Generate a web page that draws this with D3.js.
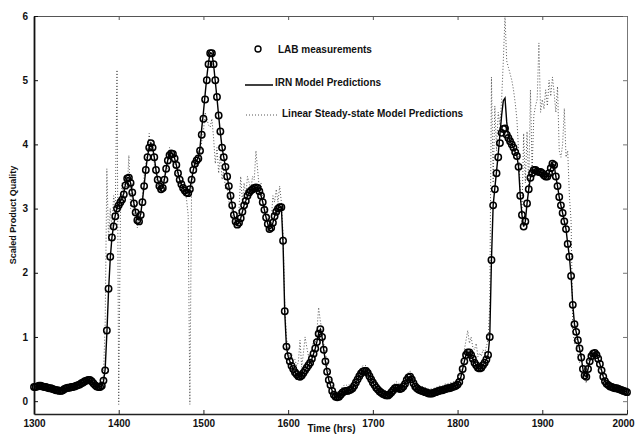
<!DOCTYPE html>
<html>
<head>
<meta charset="utf-8">
<script src="https://cdn.jsdelivr.net/npm/d3@7/dist/d3.min.js"></script>
<style>
  html, body { margin: 0; padding: 0; background: #fff; }
  svg { display: block; }
  text { font-family: "Liberation Sans", Arial, Helvetica, sans-serif; font-weight: bold; fill: #111; }
</style>
</head>
<body>
<svg id="chart" width="636" height="435"></svg>
<script>
// Sampling: one reading every 2 hours from 1300 to 2000 hrs
const timeStart = 1300;
const timeStep = 2;

// LAB measurements (scaled product quality)
const labValues = [
  0.22,0.22,0.23,0.24,0.24,0.23,0.22,0.22,0.21,0.20,
  0.20,0.19,0.18,0.17,0.17,0.16,0.16,0.17,0.19,0.20,
  0.21,0.21,0.22,0.22,0.23,0.24,0.25,0.26,0.28,0.29,
  0.31,0.32,0.33,0.33,0.31,0.28,0.25,0.23,0.22,0.22,
  0.24,0.32,0.48,1.10,1.75,2.25,2.55,2.72,2.88,3.00,
  3.05,3.10,3.14,3.22,3.36,3.47,3.48,3.40,3.25,3.08,
  2.94,2.82,2.80,2.90,3.10,3.35,3.60,3.80,3.95,4.02,
  3.95,3.80,3.60,3.45,3.35,3.30,3.32,3.45,3.62,3.75,
  3.83,3.86,3.85,3.78,3.68,3.55,3.45,3.38,3.32,3.28,
  3.25,3.24,3.30,3.45,3.60,3.70,3.75,3.78,3.90,4.15,
  4.40,4.70,5.00,5.25,5.42,5.42,5.25,5.00,4.74,4.45,
  4.20,3.95,3.80,3.65,3.50,3.35,3.20,3.05,2.90,2.80,
  2.75,2.78,2.85,2.95,3.05,3.12,3.20,3.25,3.28,3.30,
  3.32,3.33,3.32,3.27,3.20,3.10,2.98,2.86,2.76,2.68,
  2.70,2.78,2.88,2.95,3.00,3.02,3.02,2.50,1.40,0.85,
  0.70,0.62,0.55,0.50,0.45,0.42,0.39,0.38,0.40,0.44,
  0.48,0.52,0.56,0.60,0.66,0.74,0.82,0.92,1.05,1.12,
  1.00,0.80,0.62,0.46,0.33,0.25,0.16,0.10,0.07,0.06,
  0.07,0.10,0.13,0.15,0.16,0.16,0.17,0.18,0.20,0.24,
  0.29,0.34,0.39,0.43,0.46,0.47,0.47,0.44,0.39,0.34,
  0.29,0.25,0.21,0.18,0.15,0.13,0.11,0.10,0.09,0.09,
  0.11,0.14,0.17,0.20,0.21,0.20,0.19,0.20,0.23,0.27,
  0.33,0.37,0.38,0.34,0.28,0.23,0.20,0.18,0.17,0.16,
  0.15,0.14,0.13,0.12,0.12,0.12,0.13,0.14,0.15,0.16,
  0.17,0.17,0.18,0.19,0.20,0.20,0.21,0.22,0.23,0.24,
  0.26,0.30,0.38,0.50,0.62,0.72,0.76,0.76,0.72,0.66,
  0.60,0.56,0.52,0.51,0.52,0.56,0.60,0.65,0.72,1.00,
  2.20,3.05,3.30,3.55,3.80,4.02,4.18,4.24,4.25,4.15,
  4.10,4.05,4.00,3.95,3.88,3.82,3.65,3.20,2.90,2.72,
  2.80,3.08,3.30,3.48,3.55,3.60,3.60,3.58,3.57,3.57,
  3.55,3.52,3.50,3.50,3.55,3.63,3.70,3.68,3.50,3.35,
  3.18,3.05,2.93,2.80,2.68,2.45,2.25,1.95,1.50,1.20,
  1.08,0.95,0.82,0.68,0.50,0.40,0.38,0.50,0.62,0.70,
  0.74,0.75,0.72,0.66,0.58,0.48,0.38,0.31,0.27,0.25,
  0.23,0.22,0.21,0.20,0.20,0.19,0.18,0.17,0.16,0.15,
  0.14
];

// IRN model predictions
const irnValues = [
  0.22,0.22,0.23,0.24,0.24,0.23,0.22,0.22,0.21,0.20,
  0.20,0.19,0.18,0.17,0.17,0.16,0.16,0.17,0.19,0.20,
  0.21,0.21,0.22,0.22,0.23,0.24,0.25,0.26,0.28,0.29,
  0.31,0.32,0.33,0.33,0.31,0.28,0.25,0.23,0.22,0.22,
  0.24,0.30,0.50,1.05,1.72,2.22,2.55,2.74,2.90,3.02,
  3.06,3.12,3.16,3.24,3.38,3.48,3.48,3.40,3.24,3.08,
  2.94,2.83,2.82,2.92,3.12,3.36,3.61,3.81,3.96,4.02,
  3.95,3.80,3.60,3.45,3.35,3.30,3.33,3.46,3.63,3.76,
  3.84,3.86,3.85,3.78,3.68,3.55,3.45,3.38,3.32,3.28,
  3.25,3.24,3.30,3.45,3.60,3.70,3.75,3.80,3.95,4.25,
  4.50,4.78,5.05,5.28,5.43,5.42,5.24,4.98,4.72,4.44,
  4.18,3.95,3.80,3.65,3.50,3.35,3.20,3.05,2.90,2.80,
  2.75,2.78,2.85,2.95,3.05,3.12,3.20,3.25,3.28,3.30,
  3.32,3.33,3.32,3.27,3.20,3.10,2.98,2.86,2.76,2.68,
  2.70,2.78,2.88,2.95,3.00,3.02,3.02,2.45,1.38,0.84,
  0.70,0.62,0.55,0.50,0.45,0.42,0.39,0.38,0.40,0.44,
  0.48,0.52,0.56,0.60,0.66,0.74,0.82,0.93,1.06,1.12,
  1.00,0.80,0.62,0.46,0.33,0.25,0.16,0.10,0.07,0.06,
  0.07,0.10,0.13,0.15,0.16,0.16,0.17,0.18,0.20,0.24,
  0.29,0.34,0.39,0.43,0.46,0.47,0.47,0.44,0.39,0.34,
  0.29,0.25,0.21,0.18,0.15,0.13,0.11,0.10,0.09,0.09,
  0.11,0.14,0.17,0.20,0.21,0.20,0.19,0.20,0.23,0.27,
  0.33,0.37,0.38,0.34,0.28,0.23,0.20,0.18,0.17,0.16,
  0.15,0.14,0.13,0.12,0.12,0.12,0.13,0.14,0.15,0.16,
  0.17,0.17,0.18,0.19,0.20,0.20,0.21,0.22,0.23,0.24,
  0.26,0.30,0.38,0.50,0.62,0.72,0.76,0.76,0.72,0.66,
  0.60,0.56,0.52,0.51,0.52,0.56,0.60,0.65,0.72,1.00,
  2.20,3.05,3.32,3.58,3.85,4.15,4.45,4.68,4.72,4.35,
  4.12,4.05,4.00,3.95,3.88,3.82,3.65,3.20,2.90,2.72,
  2.80,3.08,3.30,3.48,3.55,3.60,3.60,3.58,3.57,3.57,
  3.55,3.52,3.50,3.50,3.55,3.63,3.70,3.68,3.50,3.35,
  3.18,3.05,2.93,2.80,2.68,2.45,2.25,1.95,1.50,1.20,
  1.08,0.95,0.82,0.68,0.50,0.40,0.38,0.50,0.62,0.70,
  0.74,0.75,0.72,0.66,0.58,0.48,0.38,0.31,0.27,0.25,
  0.23,0.22,0.21,0.20,0.20,0.19,0.18,0.17,0.16,0.15,
  0.14
];

// Linear steady-state model predictions
const linearValues = [
  0.24,0.22,0.25,0.24,0.26,0.23,0.24,0.22,0.23,0.21,
  0.22,0.20,0.20,0.18,0.19,0.17,0.18,0.18,0.21,0.21,
  0.23,0.22,0.24,0.23,0.25,0.25,0.27,0.27,0.30,0.30,
  0.33,0.33,0.35,0.34,0.33,0.29,0.27,0.24,0.24,0.23,
  0.27,0.40,1.20,3.62,2.50,3.00,2.70,3.20,3.00,5.16,
  -0.05,2.90,3.40,3.20,3.50,3.30,3.83,3.00,3.40,2.90,
  3.00,2.70,2.95,2.85,3.20,3.50,3.70,3.90,4.17,3.90,
  4.05,3.70,3.50,3.35,3.45,3.25,3.40,3.50,3.55,3.70,
  3.95,3.80,3.70,3.75,3.55,3.60,3.40,3.30,3.25,3.30,
  3.15,2.90,-0.05,3.30,3.55,3.80,3.60,3.90,3.75,4.05,
  4.20,4.50,4.40,4.30,4.27,4.40,4.10,3.70,3.95,3.55,
  3.85,3.45,3.60,3.30,3.40,3.10,3.20,2.90,2.80,2.70,
  2.85,3.00,3.50,3.10,3.40,3.20,3.50,3.40,3.30,3.50,
  3.45,3.90,3.60,3.30,3.40,3.10,3.00,3.05,2.85,2.75,
  2.80,3.20,3.10,3.30,3.10,3.35,3.10,2.60,1.50,1.00,
  0.80,0.70,0.75,0.62,0.65,0.55,0.60,0.95,0.53,0.75,
  1.00,0.84,0.70,0.75,0.80,0.95,0.90,1.10,1.46,1.25,
  1.10,0.90,0.75,0.58,0.45,0.35,0.26,0.20,0.16,0.14,
  0.15,0.18,0.22,0.25,0.24,0.26,0.25,0.27,0.28,0.33,
  0.37,0.42,0.47,0.51,0.55,0.56,0.55,0.52,0.47,0.42,
  0.36,0.33,0.28,0.26,0.22,0.20,0.18,0.17,0.16,0.16,
  0.18,0.22,0.25,0.28,0.30,0.28,0.27,0.28,0.31,0.35,
  0.42,0.45,0.47,0.42,0.36,0.30,0.27,0.25,0.24,0.23,
  0.22,0.21,0.20,0.19,0.19,0.19,0.20,0.21,0.22,0.23,
  0.24,0.24,0.26,0.27,0.27,0.28,0.29,0.29,0.31,0.32,
  0.34,0.40,0.50,0.65,0.80,0.95,1.10,0.90,1.00,0.84,
  0.80,0.90,0.69,0.75,0.70,0.80,0.75,0.85,0.95,1.50,
  5.05,3.40,4.60,3.90,4.50,4.30,4.70,5.30,6.00,5.30,
  5.20,5.10,5.00,4.85,4.65,4.40,3.90,3.30,2.90,4.17,
  3.40,4.20,3.30,4.85,3.60,4.45,4.60,4.70,5.58,4.50,
  4.70,4.55,4.85,4.60,5.00,4.75,5.05,4.80,4.50,4.90,
  3.90,3.80,4.00,4.56,3.80,3.90,3.20,2.80,1.10,0.90,
  1.00,0.70,0.60,0.75,0.45,0.35,0.28,0.55,0.75,0.80,
  0.78,0.80,0.72,0.65,0.55,0.45,0.38,0.33,0.29,0.27,
  0.25,0.24,0.23,0.22,0.22,0.21,0.20,0.19,0.18,0.17,
  0.16
];

const xTicks = [1300, 1400, 1500, 1600, 1700, 1800, 1900, 2000];
const yTicks = [0, 1, 2, 3, 4, 5, 6];
const legendLabels = ["LAB measurements", "IRN Model Predictions", "Linear Steady-state Model Predictions"];
const xTitle = "Time (hrs)";
const yTitle = "Scaled Product Quality";

// ---- layout ----
const svg = d3.select("#chart");
const plot = { left: 34, right: 627, top: 16, bottom: 414 };

const x = d3.scaleLinear().domain([1300, 2000]).range([plot.left, plot.right]);
const y = d3.scaleLinear().domain([-0.2, 6]).range([plot.bottom, plot.top]);

const series = (vals) => vals.map((v, i) => ({ t: timeStart + i * timeStep, v }));
const lab = series(labValues);
const irn = series(irnValues);
const lin = series(linearValues);

const line = d3.line().x(d => x(d.t)).y(d => y(d.v));

// ---- axes (box with inward ticks) ----
function styleAxis(g, color, width) {
  g.select(".domain").attr("stroke", color).attr("stroke-width", width);
  g.selectAll(".tick line").attr("stroke", color).attr("stroke-width", 1);
  g.selectAll(".tick text").attr("fill", "#111")
    .style("font-size", "10px").style("font-weight", "bold")
    .style("font-family", '"Liberation Sans", Arial, sans-serif');
}

svg.append("g")
  .attr("transform", `translate(0,${plot.top})`)
  .call(d3.axisTop(x).tickValues(xTicks).tickSize(-4).tickSizeOuter(0).tickFormat(""))
  .call(g => styleAxis(g, "#555", 1));

svg.append("g")
  .attr("transform", `translate(${plot.right},0)`)
  .call(d3.axisRight(y).tickValues(yTicks).tickSize(-4).tickSizeOuter(0).tickFormat(""))
  .call(g => styleAxis(g, "#777", 1));

svg.append("g")
  .attr("transform", `translate(0,${plot.bottom})`)
  .call(d3.axisBottom(x).tickValues(xTicks).tickSize(-4).tickSizeOuter(0).tickPadding(6).tickFormat(d3.format("d")))
  .call(g => styleAxis(g, "#222", 1.5))
  // keep the last label inside the page edge
  .call(g => g.selectAll(".tick text").filter(d => d === 2000).attr("dx", "-4"));

svg.append("g")
  .attr("transform", `translate(${plot.left},0)`)
  .call(d3.axisLeft(y).tickValues(yTicks).tickSize(-4).tickSizeOuter(0).tickPadding(6).tickFormat(d3.format("d")))
  .call(g => styleAxis(g, "#111", 1.8));

// axis titles
svg.append("text")
  .attr("x", (plot.left + plot.right) / 2 + 1)
  .attr("y", 432)
  .attr("text-anchor", "middle")
  .style("font-size", "10px")
  .text(xTitle);

svg.append("text")
  .attr("transform", `translate(16,${(plot.top + plot.bottom) / 2}) rotate(-90)`)
  .attr("text-anchor", "middle")
  .style("font-size", "9px")
  .text(yTitle);

// ---- data marks ----
svg.append("path")
  .datum(lin)
  .attr("d", line)
  .attr("fill", "none")
  .attr("stroke", "#444")
  .attr("stroke-width", 0.9)
  .attr("stroke-dasharray", "1,2");

svg.append("path")
  .datum(irn)
  .attr("d", line)
  .attr("fill", "none")
  .attr("stroke", "#000")
  .attr("stroke-width", 1.4);

svg.append("g")
  .selectAll("circle")
  .data(lab)
  .join("circle")
  .attr("cx", d => x(d.t))
  .attr("cy", d => y(d.v))
  .attr("r", 3.2)
  .attr("fill", "none")
  .attr("stroke", "#000")
  .attr("stroke-width", 1.5);

// ---- legend ----
const legend = svg.append("g");
legend.append("circle")
  .attr("cx", 258).attr("cy", 49).attr("r", 3)
  .attr("fill", "none").attr("stroke", "#000").attr("stroke-width", 1.4);
legend.append("line")
  .attr("x1", 245).attr("x2", 273).attr("y1", 85).attr("y2", 85)
  .attr("stroke", "#000").attr("stroke-width", 1.5);
legend.append("line")
  .attr("x1", 246).attr("x2", 277).attr("y1", 115).attr("y2", 115)
  .attr("stroke", "#444").attr("stroke-width", 0.9).attr("stroke-dasharray", "1,2");

const legendPos = [[278, 52.5], [275, 85.5], [282, 116.5]];
legend.selectAll("text.lbl")
  .data(legendLabels)
  .join("text")
  .attr("class", "lbl")
  .attr("x", (d, i) => legendPos[i][0])
  .attr("y", (d, i) => legendPos[i][1])
  .style("font-size", "10px")
  .text(d => d);
</script>
</body>
</html>
